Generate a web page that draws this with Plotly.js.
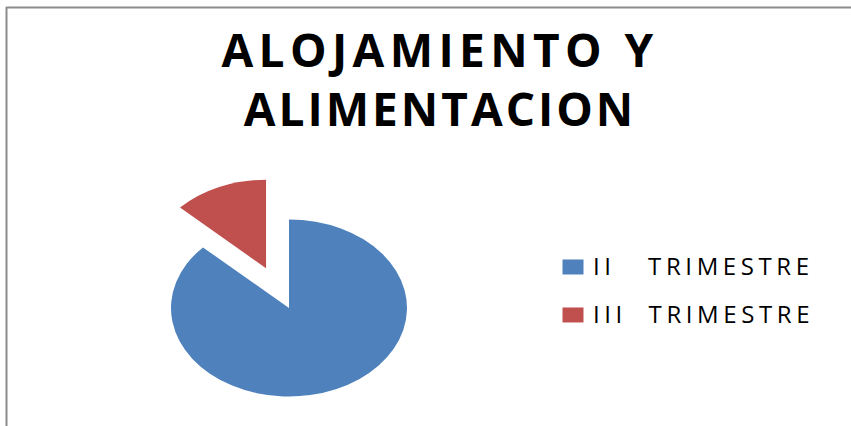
<!DOCTYPE html>
<html><head><meta charset="utf-8">
<script src="https://cdn.plot.ly/plotly-3.0.1.min.js"></script>
<style>
html,body{margin:0;padding:0;background:#fff;}
#chart{width:851px;height:426px;}
.infolayer .gtitle{font-size:46px !important;letter-spacing:3px;}
.legend .legendtext{font-size:24px !important;letter-spacing:4.6px;transform:translateY(-5px);}
</style></head><body><div id="chart"></div>
<script>
const titleLines = ["ALOJAMIENTO Y", "ALIMENTACION"];
const categories = ["II\u00A0\u00A0\u00A0TRIMESTRE", "III\u00A0\u00A0TRIMESTRE"];
const values = [87, 13];

const data = [{
  type: 'pie',
  labels: categories,
  values: values,
  sort: false,
  direction: 'clockwise',
  rotation: 0,
  pull: [0, 0.49],
  marker: {colors: ['#4F81BD', '#C0504D'], line: {width: 0}},
  textinfo: 'none',
  hoverinfo: 'label+value',
  domain: {x: [0.1, 0.55], y: [0.05, 0.95]}
}];

const layout = {
  width: 851, height: 426,
  margin: {l: 0, r: 0, t: 0, b: 0},
  paper_bgcolor: '#fff',
  title: {
    text: '<span style="letter-spacing:5.4px">' + titleLines[0] + '</span><br>' + titleLines[1],
    font: {family: 'Open Sans, Liberation Sans, Arial, sans-serif', size: 48.5, color: '#000', weight: 'bold'},
    x: 440/851, xanchor: 'center', xref: 'paper',
    y: 1 - 66.5/426, yanchor: 'top', yref: 'container'
  },
  showlegend: true,
  legend: {
    x: 553/851, xanchor: 'left',
    y: 1 - 291/426, yanchor: 'middle',
    font: {family: 'Open Sans, Liberation Sans, Arial, sans-serif', size: 34.6, color: '#000'},
    bgcolor: 'rgba(0,0,0,0)'
  },
  shapes: [
    {type: 'line', xref: 'paper', yref: 'paper', x0: 6/851, x1: 1, y0: 1 - 7.5/426, y1: 1 - 7.5/426, line: {color: '#8c8c8c', width: 2}},
    {type: 'line', xref: 'paper', yref: 'paper', x0: 6.5/851, x1: 6.5/851, y0: 0, y1: 1 - 7/426, line: {color: '#8c8c8c', width: 2}}
  ]
};

Plotly.newPlot('chart', data, layout, {displayModeBar: false, staticPlot: true}).then(function (gd) {
  const cd0 = gd.calcdata[0][0];
  const cx = cd0.cx, cy = cd0.cy, r = cd0.r;
  const k = 118 / r;
  const pl = gd.querySelector('.pielayer');
  if (pl) {
    pl.setAttribute('transform', 'translate(289,308) scale(' + k + ',' + (0.75 * k) + ') translate(' + (-cx) + ',' + (-cy) + ')');
  }
  gd.querySelectorAll('path.legendpie').forEach(function (p) {
    const t = p.getAttribute('transform') || '';
    p.setAttribute('transform', t + ' scale(1.75,1.25)');
  });
});
</script></body></html>
